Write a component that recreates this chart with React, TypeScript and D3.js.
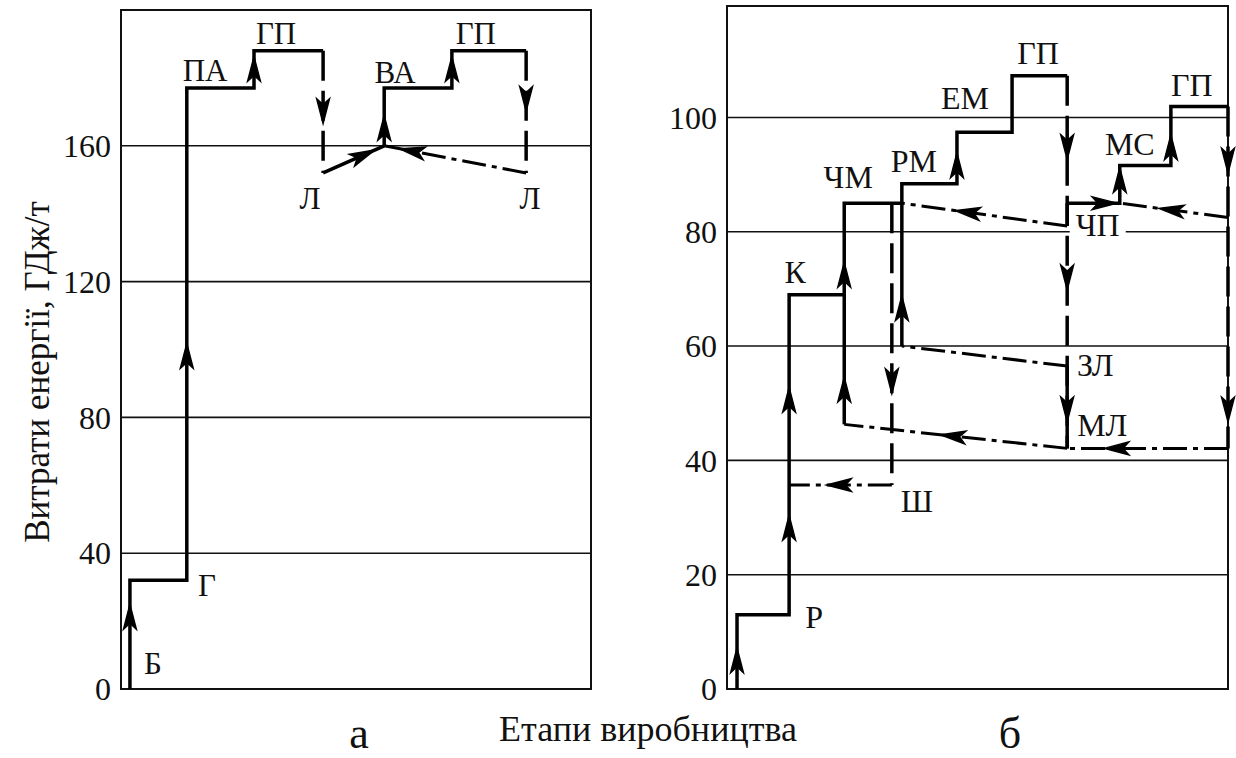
import React from 'react';
import * as d3 from 'd3';

type P = [number, number];
// arrow: [x1, v1, x2, v2, t] -> sits on segment at t, points toward (x2, v2)
type A = [number, number, number, number, number];

const leftTicks = [0, 40, 80, 120, 160];
const rightTicks = [0, 20, 40, 60, 80, 100];

// panel "а"
const aMain: P[] = [[1.9, 0], [1.9, 32], [14, 32], [14, 177], [28.3, 177], [28.3, 188], [43, 188]];
const aDown1: P[] = [[43, 188], [43, 152]];
const aLtoVA: P[] = [[43, 152], [56, 160]];
const aVA: P[] = [[56, 160], [56, 177], [70.4, 177], [70.4, 188], [86.2, 188]];
const aDown2: P[] = [[86.2, 188], [86.2, 152]];
const aReturn: P[] = [[86.2, 152], [56, 160]];

const aArrows: A[] = [
  [1.9, 0, 1.9, 32, 0.66],
  [14, 32, 14, 177, 0.455],
  [28.3, 177, 28.3, 188, 0.5],
  [43, 188, 43, 152, 0.49],
  [43, 152, 56, 160, 0.65],
  [56, 160, 56, 177, 0.3],
  [70.4, 177, 70.4, 188, 0.5],
  [86.2, 188, 86.2, 152, 0.39],
  [86.2, 152, 56, 160, 0.8],
];

const aLabels: [string, number, number][] = [
  ['ПА', 17.9, 182.3], ['ГП', 33, 193], ['ВА', 58.3, 181.7], ['ГП', 75.5, 193],
  ['Л', 40.2, 144.6], ['Л', 87, 144.6], ['Г', 18.3, 30.6], ['Б', 6.8, 7.4],
];

// panel "б"
const bOre: P[] = [[2, 0], [2, 13], [12.4, 13], [12.4, 69], [23.4, 69], [23.4, 85], [34.9, 85]];
const bScrapUp: P[] = [[23.4, 46.3], [23.4, 69]];
const bRM: P[] = [[34.9, 60], [34.9, 88.4], [45.9, 88.4], [45.9, 97.4], [56.9, 97.4], [56.9, 107.3], [67.9, 107.3]];
const bMS: P[] = [[67.9, 85], [78.4, 85], [78.4, 91.6], [88.6, 91.6], [88.6, 101.9], [100, 101.9]];
const bSolidBits: P[][] = [[[67.9, 85], [67.9, 81]], [[67.9, 56.5], [67.9, 42.1]]];
const bDashed: P[][] = [
  [[67.9, 107.3], [67.9, 42.1]],
  [[100, 101.9], [100, 42.1]],
  [[32.9, 85], [32.9, 35.7]],
];
const bDashDot: P[][] = [
  [[32.9, 35.7], [12.4, 35.7]],
  [[67.9, 81], [34.9, 85]],
  [[100, 82.5], [78.4, 85]],
  [[67.9, 56.5], [34.9, 60]],
  [[67.9, 42.1], [23.4, 46.3]],
  [[100, 42.1], [67.9, 42.1]],
];

const bArrows: A[] = [
  [2, 0, 2, 13, 0.38],
  [12.4, 13, 12.4, 69, 0.27],
  [12.4, 13, 12.4, 69, 0.67],
  [23.4, 46.3, 23.4, 85, 0.155],
  [23.4, 46.3, 23.4, 85, 0.674],
  [34.9, 60, 34.9, 88.4, 0.23],
  [32.9, 85, 32.9, 35.7, 0.63],
  [45.9, 88.4, 45.9, 97.4, 0.35],
  [67.9, 107.3, 67.9, 42.1, 0.19],
  [67.9, 107.3, 67.9, 42.1, 0.54],
  [67.9, 107.3, 67.9, 42.1, 0.894],
  [78.4, 85, 78.4, 91.6, 0.6],
  [88.6, 91.6, 88.6, 101.9, 0.3],
  [100, 101.9, 100, 42.1, 0.157],
  [100, 101.9, 100, 42.1, 0.885],
  [67.9, 85, 78.4, 85, 0.7],
  [67.9, 81, 34.9, 85, 0.6],
  [100, 82.5, 78.4, 85, 0.52],
  [67.9, 42.1, 23.4, 46.3, 0.51],
  [100, 42.1, 67.9, 42.1, 0.69],
  [32.9, 35.7, 12.4, 35.7, 0.51],
];

const bLabels: [string, number, number][] = [
  ['ЧМ', 24.2, 89.6], ['РМ', 37.3, 92.4], ['ЕМ', 47.5, 103.4], ['ГП', 62.1, 111.3],
  ['ГП', 92.8, 105.7], ['МС', 80.4, 95.3], ['ЧП', 74, 81.2], ['ЗЛ', 73.5, 56.7],
  ['МЛ', 74.9, 46.2], ['К', 13.6, 73], ['Ш', 37.9, 32.9], ['Р', 17.4, 12.6],
];

const FONT = "'Liberation Serif', Tinos, 'Times New Roman', 'DejaVu Serif', serif";

const ax = d3.scaleLinear().domain([0, 100]).range([121, 591]);
const ay = d3.scaleLinear().domain([0, 200]).range([689, 10]);
const bx = d3.scaleLinear().domain([0, 100]).range([727, 1228]);
const by = d3.scaleLinear().domain([0, 119.5]).range([689, 6]);

function Panel({ x, y, ticks, main, dashed, dashDot, arrows, labels, fontSize, cutout }: any) {
  const line = d3.line<P>().x(d => x(d[0])).y(d => y(d[1]));
  const [x0, x1] = x.range();
  const [y0, y1] = y.range();
  return (
    <g>
      {ticks.filter((t: number) => t > 0).map((t: number) => (
        <line key={'g' + t} x1={x0} x2={x1} y1={y(t)} y2={y(t)} stroke="#111" strokeWidth={1.6} />
      ))}
      <rect x={x0} y={y1} width={x1 - x0} height={y0 - y1} fill="none" stroke="#111" strokeWidth={2} />
      {ticks.map((t: number) => (
        <text key={'t' + t} x={x0 - 10} y={y(t)} dy="0.35em" textAnchor="end" fontSize={32} style={{ fontFamily: FONT }} fill="#111">{t}</text>
      ))}
      {cutout && cutout.map((c: any, i: number) => (
        <rect key={'c' + i} x={x(c[0]) - c[2] / 2} y={y(c[1]) - 14} width={c[2]} height={28} fill="#fff" />
      ))}
      {dashed.map((d: P[], i: number) => (
        <path key={'d' + i} d={line(d) || ''} fill="none" stroke="#000" strokeWidth={3.5} strokeDasharray="30,10" />
      ))}
      {dashDot.map((d: P[], i: number) => (
        <path key={'dd' + i} d={line(d) || ''} fill="none" stroke="#000" strokeWidth={3} strokeDasharray="24,6,5,6" />
      ))}
      {main.map((d: P[], i: number) => (
        <path key={'m' + i} d={line(d) || ''} fill="none" stroke="#000" strokeWidth={3.5} strokeLinejoin="miter" />
      ))}
      {arrows.map((a: A, i: number) => {
        const px1 = x(a[0]), py1 = y(a[1]), px2 = x(a[2]), py2 = y(a[3]);
        const cx = px1 + (px2 - px1) * a[4];
        const cy = py1 + (py2 - py1) * a[4];
        const ang = Math.atan2(py2 - py1, px2 - px1) * 180 / Math.PI;
        return (
          <path key={'a' + i} d="M13,0 L-12,-6.5 L-6,0 L-12,6.5 Z" fill="#000" stroke="#000" strokeWidth={1.4}
            transform={`translate(${cx},${cy}) rotate(${ang})`} />
        );
      })}
      {labels.map((l: [string, number, number], i: number) => (
        <text key={'l' + i} x={x(l[1])} y={y(l[2])} dy="0.34em" textAnchor="middle" fontSize={fontSize} style={{ fontFamily: FONT }} fill="#111">{l[0]}</text>
      ))}
    </g>
  );
}

export default function App() {
  return (
    <svg width={1236} height={758} style={{ position: 'absolute', left: 0, top: 0, background: '#fff' }}>
      <rect width={1236} height={758} fill="#fff" />
      <Panel x={ax} y={ay} ticks={leftTicks}
        main={[aMain, aLtoVA, aVA]} dashed={[aDown1, aDown2]} dashDot={[aReturn]}
        arrows={aArrows} labels={aLabels} fontSize={31} />
      <Panel x={bx} y={by} ticks={rightTicks}
        main={[bOre, bScrapUp, bRM, bMS, ...bSolidBits]} dashed={bDashed} dashDot={bDashDot}
        arrows={bArrows} labels={bLabels} fontSize={32} cutout={[[74, 80, 56]]} />
      <text transform="translate(49,372) rotate(-90)" textAnchor="middle" fontSize={35} style={{ fontFamily: FONT }} fill="#111">
        Витрати енергії, ГДж/т
      </text>
      <text x={648} y={741} textAnchor="middle" fontSize={36} style={{ fontFamily: FONT }} fill="#111">Етапи виробництва</text>
      <text x={359} y={748} textAnchor="middle" fontSize={44} style={{ fontFamily: FONT }} fill="#111">а</text>
      <text x={1010} y={748} textAnchor="middle" fontSize={44} style={{ fontFamily: FONT }} fill="#111">б</text>
    </svg>
  );
}
